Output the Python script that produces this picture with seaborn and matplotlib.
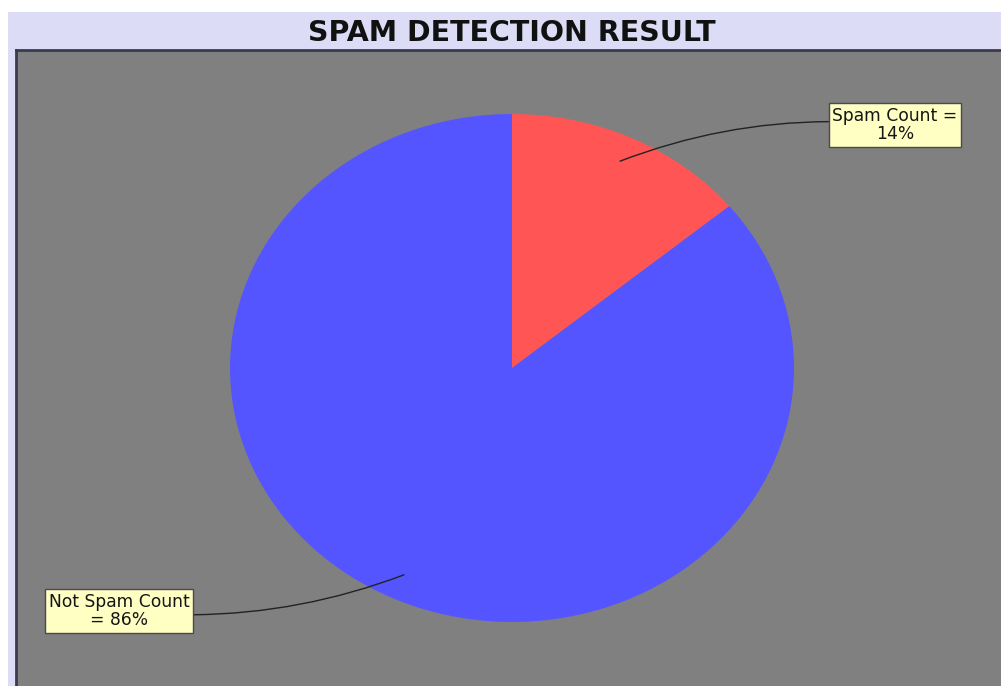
import numpy as np
import matplotlib
matplotlib.use("Agg")
import matplotlib.pyplot as plt
from matplotlib.patches import Rectangle
import seaborn as sns

# Data
categories = ["Spam Count", "Not Spam Count"]
shares = [14, 86]
slice_colors = ["#FF5555", "#5555FF"]

sns.set_style("white")
plt.rcParams["font.family"] = ["DejaVu Sans"]

W, H = 1001, 686
fig = plt.figure(figsize=(W / 100, H / 100), dpi=100, facecolor="white")

# lavender panel behind the title and plot area
fig.patches.append(Rectangle((8 / W, 0), 1 - 8 / W, (H - 12) / H,
                             transform=fig.transFigure, facecolor="#DCDCF6",
                             edgecolor="none", zorder=-5))

fig.text(512 / W, 1 - 33 / H, "SPAM DETECTION RESULT", ha="center", va="center",
         fontsize=20.5, fontweight="bold", color="#111111")

ax = fig.add_axes([16 / W, 0, 1 - 16 / W, (H - 50) / H])
ax.set_zorder(1)
ax.set_facecolor("#808080")

wedges, _ = ax.pie(shares, colors=slice_colors, startangle=90, counterclock=False,
                   wedgeprops=dict(linewidth=0))
ax.set_aspect("auto")
# elliptical pie: radius 282 px across, 254 px tall
rx, ry = 282, 254
ax.set_xlim(-(512 - 16) / rx, (W - 512) / rx)
ax.set_ylim(-(H - 368) / ry, (368 - 50) / ry)
ax.set_xticks([])
ax.set_yticks([])
ax.set_frame_on(True)
for side in ("right", "bottom"):
    ax.spines[side].set_visible(False)
for side in ("left", "top"):
    ax.spines[side].set_visible(True)
    ax.spines[side].set_color("#3A3A50")
    ax.spines[side].set_linewidth(2)

# callout boxes with curved leader lines
box_pos = [(895, 125), (119, 611)]
label_text = ["Spam Count =\n14%", "Not Spam Count\n= 86%"]
rads = [0.12, 0.12]
for w, (bx, by), txt, rad in zip(wedges, box_pos, label_text, rads):
    mid = np.deg2rad((w.theta1 + w.theta2) / 2)
    anchor = (0.9 * np.cos(mid), 0.9 * np.sin(mid))
    tx = (bx - 16) / (W - 16)
    ty = (H - by) / (H - 50)
    ax.annotate(txt, xy=anchor, xycoords="data", xytext=(tx, ty),
                textcoords="axes fraction", ha="center", va="center",
                fontsize=12.3, color="#151515", linespacing=1.05,
                bbox=dict(boxstyle="square,pad=0.2", facecolor="#FFFFC4",
                          edgecolor="#4A4A4A", linewidth=1),
                arrowprops=dict(arrowstyle="-", color="#222222", linewidth=1,
                                connectionstyle=f"arc3,rad={rad}",
                                shrinkA=0, shrinkB=0))

fig.savefig("out.png", dpi=100, facecolor=fig.get_facecolor())
